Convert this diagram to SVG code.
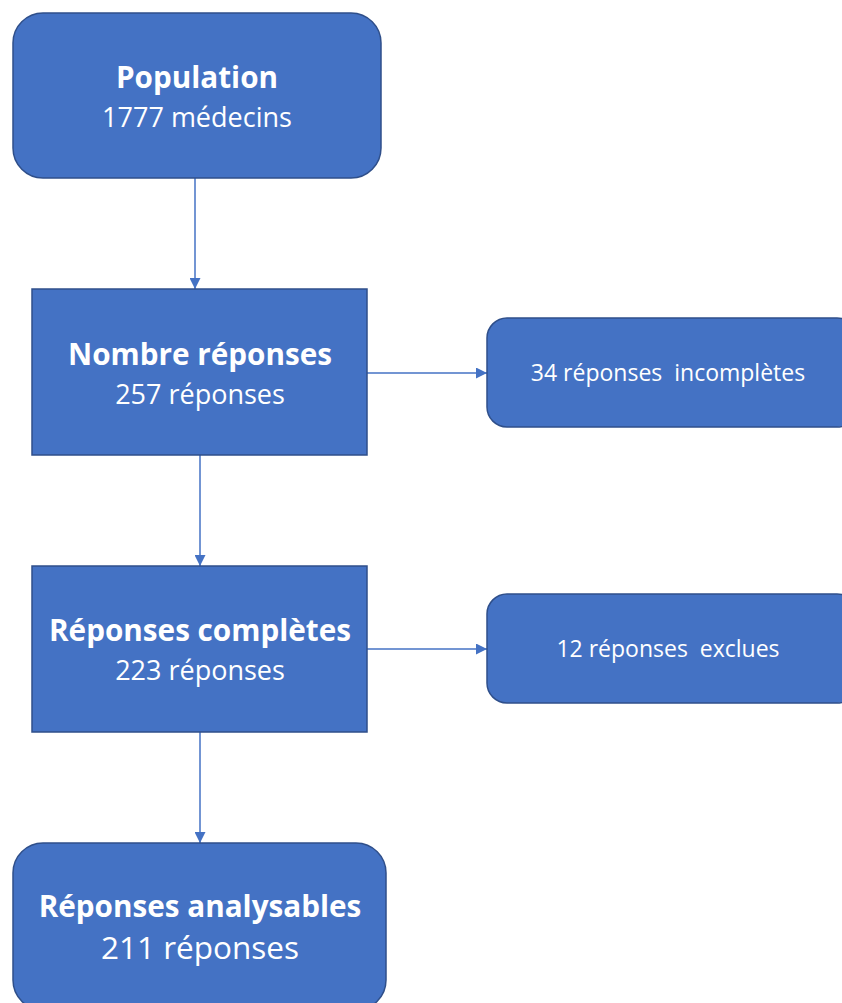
<svg xmlns="http://www.w3.org/2000/svg" width="842" height="1003" viewBox="0 0 842 1003">
<style>
.box{fill:#4472C4;stroke:#2F4F8A;stroke-width:1.5}
.t{font-family:"Open Sans",Lato,sans-serif;fill:#fff;text-anchor:middle}
.b{font-weight:bold;font-size:29.7px}
.n{font-size:27px}
.l{font-size:31.5px}
.s{font-size:23px;white-space:pre}
.c{stroke:#4472C4;stroke-width:1.5;fill:none}
</style>
<defs>
<marker id="ah" viewBox="0 0 10 10" refX="10" refY="5" markerWidth="11" markerHeight="11" markerUnits="userSpaceOnUse" orient="auto">
<path d="M0,0 L10,5 L0,10 z" fill="#4472C4"/>
</marker>
</defs>
<g id="connectors">
<line class="c" x1="195" y1="178" x2="195" y2="289" marker-end="url(#ah)"/>
<line class="c" x1="200" y1="455" x2="200" y2="566" marker-end="url(#ah)"/>
<line class="c" x1="200" y1="732" x2="200" y2="843" marker-end="url(#ah)"/>
<line class="c" x1="367" y1="373" x2="487" y2="373" marker-end="url(#ah)"/>
<line class="c" x1="367" y1="649" x2="487" y2="649" marker-end="url(#ah)"/>
</g>
<g id="population">
<rect class="box" x="13" y="13" width="368" height="165" rx="30"/>
<text class="t b" x="197" y="88">Population</text>
<text class="t n" x="197" y="127">1777 médecins</text>
</g>
<g id="nombre">
<rect class="box" x="32" y="289" width="335" height="166"/>
<text class="t b" x="200" y="365">Nombre réponses</text>
<text class="t n" x="200" y="404">257 réponses</text>
</g>
<g id="incompletes">
<rect class="box" x="487" y="318" width="370" height="109" rx="20"/>
<text class="t s" x="668" y="381" xml:space="preserve">34 réponses  incomplètes</text>
</g>
<g id="completes">
<rect class="box" x="32" y="566" width="335" height="166"/>
<text class="t b" x="200" y="641">Réponses complètes</text>
<text class="t n" x="200" y="680">223 réponses</text>
</g>
<g id="exclues">
<rect class="box" x="487" y="594" width="370" height="109" rx="20"/>
<text class="t s" x="668" y="657" xml:space="preserve">12 réponses  exclues</text>
</g>
<g id="analysables">
<rect class="box" x="13" y="843" width="373" height="167" rx="30"/>
<text class="t b" x="200" y="917">Réponses analysables</text>
<text class="t l" x="200" y="959">211 réponses</text>
</g>
</svg>
